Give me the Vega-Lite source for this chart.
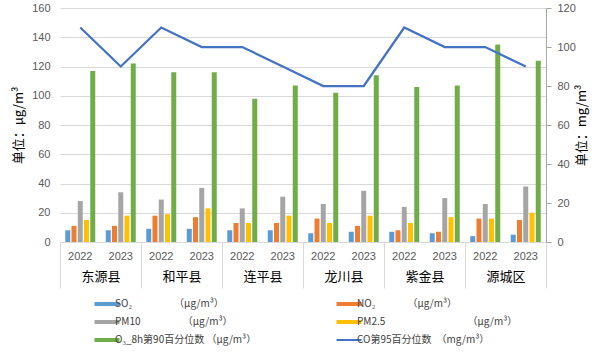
{
  "$schema": "https://vega.github.io/schema/vega-lite/v6.json",
  "width": 486,
  "height": 234,
  "autosize": {"type": "none"},
  "padding": {"left": 60, "top": 8, "right": 61, "bottom": 110},
  "background": "white",
  "config": {"view": {"stroke": null}, "font": "Noto Sans CJK SC"},
  "datasets": {
    "pollutants": [
      {"key": "东源县-2022", "series": "SO₂", "value": 8},
      {"key": "东源县-2022", "series": "NO₂", "value": 11},
      {"key": "东源县-2022", "series": "PM10", "value": 28},
      {"key": "东源县-2022", "series": "PM2.5", "value": 15},
      {"key": "东源县-2022", "series": "O₃_8h第90百分位数", "value": 117},
      {"key": "东源县-2023", "series": "SO₂", "value": 8},
      {"key": "东源县-2023", "series": "NO₂", "value": 11},
      {"key": "东源县-2023", "series": "PM10", "value": 34},
      {"key": "东源县-2023", "series": "PM2.5", "value": 18},
      {"key": "东源县-2023", "series": "O₃_8h第90百分位数", "value": 122},
      {"key": "和平县-2022", "series": "SO₂", "value": 9},
      {"key": "和平县-2022", "series": "NO₂", "value": 18},
      {"key": "和平县-2022", "series": "PM10", "value": 29},
      {"key": "和平县-2022", "series": "PM2.5", "value": 19},
      {"key": "和平县-2022", "series": "O₃_8h第90百分位数", "value": 116},
      {"key": "和平县-2023", "series": "SO₂", "value": 9},
      {"key": "和平县-2023", "series": "NO₂", "value": 17},
      {"key": "和平县-2023", "series": "PM10", "value": 37},
      {"key": "和平县-2023", "series": "PM2.5", "value": 23},
      {"key": "和平县-2023", "series": "O₃_8h第90百分位数", "value": 116},
      {"key": "连平县-2022", "series": "SO₂", "value": 8},
      {"key": "连平县-2022", "series": "NO₂", "value": 13},
      {"key": "连平县-2022", "series": "PM10", "value": 23},
      {"key": "连平县-2022", "series": "PM2.5", "value": 13},
      {"key": "连平县-2022", "series": "O₃_8h第90百分位数", "value": 98},
      {"key": "连平县-2023", "series": "SO₂", "value": 8},
      {"key": "连平县-2023", "series": "NO₂", "value": 13},
      {"key": "连平县-2023", "series": "PM10", "value": 31},
      {"key": "连平县-2023", "series": "PM2.5", "value": 18},
      {"key": "连平县-2023", "series": "O₃_8h第90百分位数", "value": 107},
      {"key": "龙川县-2022", "series": "SO₂", "value": 6},
      {"key": "龙川县-2022", "series": "NO₂", "value": 16},
      {"key": "龙川县-2022", "series": "PM10", "value": 26},
      {"key": "龙川县-2022", "series": "PM2.5", "value": 13},
      {"key": "龙川县-2022", "series": "O₃_8h第90百分位数", "value": 102},
      {"key": "龙川县-2023", "series": "SO₂", "value": 7},
      {"key": "龙川县-2023", "series": "NO₂", "value": 11},
      {"key": "龙川县-2023", "series": "PM10", "value": 35},
      {"key": "龙川县-2023", "series": "PM2.5", "value": 18},
      {"key": "龙川县-2023", "series": "O₃_8h第90百分位数", "value": 114},
      {"key": "紫金县-2022", "series": "SO₂", "value": 7},
      {"key": "紫金县-2022", "series": "NO₂", "value": 8},
      {"key": "紫金县-2022", "series": "PM10", "value": 24},
      {"key": "紫金县-2022", "series": "PM2.5", "value": 13},
      {"key": "紫金县-2022", "series": "O₃_8h第90百分位数", "value": 106},
      {"key": "紫金县-2023", "series": "SO₂", "value": 6},
      {"key": "紫金县-2023", "series": "NO₂", "value": 7},
      {"key": "紫金县-2023", "series": "PM10", "value": 30},
      {"key": "紫金县-2023", "series": "PM2.5", "value": 17},
      {"key": "紫金县-2023", "series": "O₃_8h第90百分位数", "value": 107},
      {"key": "源城区-2022", "series": "SO₂", "value": 4},
      {"key": "源城区-2022", "series": "NO₂", "value": 16},
      {"key": "源城区-2022", "series": "PM10", "value": 26},
      {"key": "源城区-2022", "series": "PM2.5", "value": 16},
      {"key": "源城区-2022", "series": "O₃_8h第90百分位数", "value": 135},
      {"key": "源城区-2023", "series": "SO₂", "value": 5},
      {"key": "源城区-2023", "series": "NO₂", "value": 15},
      {"key": "源城区-2023", "series": "PM10", "value": 38},
      {"key": "源城区-2023", "series": "PM2.5", "value": 20},
      {"key": "源城区-2023", "series": "O₃_8h第90百分位数", "value": 124}
    ],
    "co": [
      {"key": "东源县-2022", "value": 110},
      {"key": "东源县-2023", "value": 90},
      {"key": "和平县-2022", "value": 110},
      {"key": "和平县-2023", "value": 100},
      {"key": "连平县-2022", "value": 100},
      {"key": "连平县-2023", "value": 90},
      {"key": "龙川县-2022", "value": 80},
      {"key": "龙川县-2023", "value": 80},
      {"key": "紫金县-2022", "value": 110},
      {"key": "紫金县-2023", "value": 100},
      {"key": "源城区-2022", "value": 100},
      {"key": "源城区-2023", "value": 90}
    ],
    "counties": [
      {"county": "东源县"},
      {"county": "和平县"},
      {"county": "连平县"},
      {"county": "龙川县"},
      {"county": "紫金县"},
      {"county": "源城区"}
    ]
  },
  "layer": [
    {
      "data": {"name": "pollutants"},
      "mark": {"type": "bar"},
      "encoding": {
        "x": {
          "field": "key", "type": "nominal", "sort": null,
          "scale": {"type": "band", "paddingInner": 0, "paddingOuter": 0},
          "axis": {"orient": "bottom", "title": null, "labelExpr": "slice(datum.label, -4)", "labelAngle": 0, "ticks": false, "domain": true, "domainColor": "#d9d9d9", "labelColor": "#595959", "labelFontSize": 11, "labelPadding": 8, "labelFont": "Liberation Sans", "grid": false}
        },
        "xOffset": {
          "field": "series", "type": "nominal",
          "scale": {"domain": ["SO₂", "NO₂", "PM10", "PM2.5", "O₃_8h第90百分位数"], "paddingInner": 0.2, "paddingOuter": 0.84}
        },
        "y": {
          "field": "value", "type": "quantitative",
          "scale": {"domain": [0, 160], "nice": false},
          "axis": {"orient": "left", "values": [0, 20, 40, 60, 80, 100, 120, 140, 160], "grid": true, "gridColor": "#d9d9d9", "domain": false, "ticks": false, "labelColor": "#595959", "labelFontSize": 11, "labelFont": "Liberation Sans", "labelPadding": 10, "title": "单位：μg/m³", "titleFontSize": 13, "titleFontWeight": "normal", "titleColor": "#000000", "titlePadding": 6}
        },
        "color": {
          "field": "series", "type": "nominal",
          "scale": {
            "domain": ["SO₂", "NO₂", "PM10", "PM2.5", "O₃_8h第90百分位数", "CO第95百分位数"],
            "range": ["#5B9BD5", "#ED7D31", "#A5A5A5", "#FFC000", "#70AD47", "#4472C4"]
          },
          "legend": {
            "orient": "none", "legendX": 42, "legendY": 291, "padding": 0,
            "direction": "horizontal",
            "title": null, "columns": 2, "columnPadding": 71, "rowPadding": 2,
            "symbolType": "stroke", "symbolSize": 625, "symbolStrokeWidth": 4,
            "labelFontSize": 10, "labelLimit": 400, "labelColor": "#404040", "labelOffset": 3,
            "labelExpr": "datum.value == 'SO₂' ? 'SO₂　　　　 （μg/m³）' : datum.value == 'NO₂' ? 'NO₂　　　 （μg/m³）' : datum.value == 'PM10' ? 'PM10　　　　  （μg/m³）' : datum.value == 'PM2.5' ? 'PM2.5　　　　　　　　 （μg/m³）' : datum.value == 'CO第95百分位数' ? 'CO第95百分位数　（mg/m³）' : 'O₃_8h第90百分位数 （μg/m³）'",
            "encode": {
              "symbols": {
                "update": {
                  "fill": {"value": "transparent"},
                  "stroke": {"scale": "color", "field": "value"},
                  "strokeWidth": {"signal": "datum.value == 'CO第95百分位数' ? 2 : 4"}
                }
              }
            }
          }
        }
      }
    },
    {
      "data": {"name": "co"},
      "mark": {"type": "line", "strokeWidth": 2.25},
      "encoding": {
        "x": {"field": "key", "type": "nominal", "sort": null, "scale": {"type": "point", "padding": 0.5}, "axis": null},
        "y": {
          "field": "value", "type": "quantitative",
          "scale": {"domain": [0, 120], "nice": false},
          "axis": {"orient": "right", "values": [0, 20, 40, 60, 80, 100, 120], "grid": false, "domain": true, "domainColor": "#a6a6a6", "ticks": true, "tickColor": "#a6a6a6", "tickSize": 5, "labelColor": "#595959", "labelFontSize": 11, "labelFont": "Liberation Sans", "labelPadding": 6, "title": "单位：mg/m³", "titleAngle": -90, "titleFontSize": 13, "titleFontWeight": "normal", "titleColor": "#000000", "titlePadding": 13}
        },
        "color": {"datum": "CO第95百分位数"}
      }
    },
    {
      "data": {"name": "counties"},
      "mark": {"type": "rule", "opacity": 0},
      "encoding": {
        "x": {
          "field": "county", "type": "nominal", "sort": null,
          "scale": {"type": "band", "paddingInner": 0, "paddingOuter": 0},
          "axis": {"orient": "bottom", "title": null, "labelAngle": 0, "domain": false, "ticks": true, "tickBand": "extent", "tickSize": 46, "tickColor": "#d9d9d9", "labelPadding": -18, "labelFontSize": 13, "labelColor": "#000000", "labelFont": "Noto Sans CJK SC", "grid": false}
        }
      }
    }
  ],
  "resolve": {"scale": {"x": "independent", "y": "independent", "color": "shared"}}
}
